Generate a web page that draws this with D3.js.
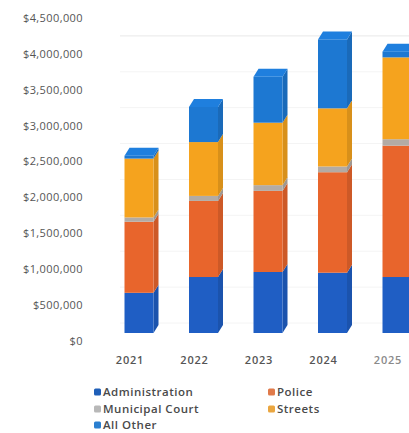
<!DOCTYPE html>
<html>
<head>
<meta charset="utf-8">
<script src="https://cdn.jsdelivr.net/npm/d3@7"></script>
<style>
  html, body { margin: 0; padding: 0; background: #fff; }
  svg { display: block; }
  text { font-family: "Open Sans", "DejaVu Sans", sans-serif; }
</style>
</head>
<body>
<svg id="chart" width="409" height="433"></svg>
<script>
// ---- data ----
const years = ["2021", "2022", "2023", "2024", "2025"];
const administration = [560000, 780000, 850000, 840000, 780000];
const police = [990000, 1060000, 1130000, 1400000, 1830000];
const municipalCourt = [60000, 70000, 80000, 80000, 90000];
const streets = [820000, 750000, 870000, 810000, 1140000];
const allOther = [40000, 490000, 640000, 960000, 80000];
const seriesNames = ["Administration", "Police", "Municipal Court", "Streets", "All Other"];
const yTicks = [0, 500000, 1000000, 1500000, 2000000, 2500000, 3000000, 3500000, 4000000, 4500000];

const colors = {
  "Administration": "#1f5ec4",
  "Police": "#e8652c",
  "Municipal Court": "#b3aba4",
  "Streets": "#f5a31e",
  "All Other": "#1d78d2"
};
const legendColors = {
  "Administration": "#1f5fb8",
  "Police": "#e07a4a",
  "Municipal Court": "#b8b8b8",
  "Streets": "#eaa640",
  "All Other": "#2a7fd0"
};

const rows = years.map((y, i) => ({
  year: y,
  "Administration": administration[i],
  "Police": police[i],
  "Municipal Court": municipalCourt[i],
  "Streets": streets[i],
  "All Other": allOther[i]
}));

const svg = d3.select("#chart");
svg.append("rect").attr("width", 409).attr("height", 433).attr("fill", "#fff");

// label scale (axis); 3D front face sits 8px above, back wall 18px above
const y = d3.scaleLinear().domain([0, 4500000]).range([341, 18]);
const frontDy = -8;
const wallDy = -18;
const depthX = 5, depthY = -8;
const x = d3.scalePoint().domain(years).range([130, 388]);
const barOffset = 9;
const barW = 29;

// back wall gridlines
svg.append("g").selectAll("line")
  .data(yTicks.filter(v => v <= 4000000))
  .join("line")
  .attr("x1", 120).attr("x2", 409)
  .attr("y1", d => y(d) + wallDy).attr("y2", d => y(d) + wallDy)
  .attr("stroke", d => d === 4000000 ? "#e8e8e8" : "#f4f4f4")
  .attr("stroke-width", 1);

// y axis labels
svg.append("g").selectAll("text")
  .data(yTicks)
  .join("text")
  .attr("x", 83)
  .attr("y", d => y(d))
  .attr("dy", "0.35em")
  .attr("text-anchor", "end")
  .attr("font-size", 11)
  .attr("font-weight", 500)
  .attr("letter-spacing", "0.4px")
  .attr("fill", "#555")
  .text(d => d3.format("$,")(d));

// x labels
svg.append("g").selectAll("text")
  .data(years)
  .join("text")
  .attr("x", d => x(d))
  .attr("y", 360)
  .attr("dy", "0.35em")
  .attr("text-anchor", "middle")
  .attr("font-size", 11)
  .attr("font-weight", 600)
  .attr("letter-spacing", "0.8px")
  .attr("fill", (d, i) => i === 4 ? "#8a8a8a" : "#555")
  .text(d => d);

// stacked 3D bars
const stack = d3.stack().keys(seriesNames)(rows);
const gBars = svg.append("g");
const darker = c => d3.color(c).darker(0.35).formatHex();
const lighter = c => d3.color(c).brighter(0.15).formatHex();

years.forEach((yr, i) => {
  const cx = x(yr) + barOffset;
  const x0 = cx - barW / 2, x1 = cx + barW / 2;
  const g = gBars.append("g");
  stack.forEach((layer) => {
    const d = layer[i];
    const yt = y(d[1]) + frontDy, yb = y(d[0]) + frontDy;
    const c = colors[layer.key];
    // side face
    g.append("path")
      .attr("d", `M${x1},${yb} L${x1 + depthX},${yb + depthY} L${x1 + depthX},${yt + depthY} L${x1},${yt} Z`)
      .attr("fill", darker(c));
    // front face
    g.append("rect")
      .attr("x", x0).attr("y", yt)
      .attr("width", barW).attr("height", Math.max(0, yb - yt))
      .attr("fill", c);
  });
  // top face of topmost segment
  const top = stack[stack.length - 1][i];
  const yt = y(top[1]) + frontDy;
  const ct = colors[stack[stack.length - 1].key];
  g.append("path")
    .attr("d", `M${x0},${yt} L${x0 + depthX},${yt + depthY} L${x1 + depthX},${yt + depthY} L${x1},${yt} Z`)
    .attr("fill", lighter(ct));
});

// legend
const legendItems = [
  { name: "Administration", x: 94, y: 392 },
  { name: "Police", x: 268, y: 392 },
  { name: "Municipal Court", x: 94, y: 409 },
  { name: "Streets", x: 268, y: 409 },
  { name: "All Other", x: 94, y: 425 }
];
const lg = svg.append("g").selectAll("g").data(legendItems).join("g")
  .attr("transform", d => `translate(${d.x},${d.y})`);
lg.append("rect")
  .attr("x", 0).attr("y", -3.5).attr("width", 7).attr("height", 7).attr("rx", 1.5)
  .attr("fill", d => legendColors[d.name]);
lg.append("text")
  .attr("x", 9).attr("y", 0).attr("dy", "0.35em")
  .attr("font-size", 11.5)
  .attr("font-weight", 600)
  .attr("letter-spacing", "0.5px")
  .attr("fill", "#4a4a4a")
  .text(d => d.name);
</script>
</body>
</html>
